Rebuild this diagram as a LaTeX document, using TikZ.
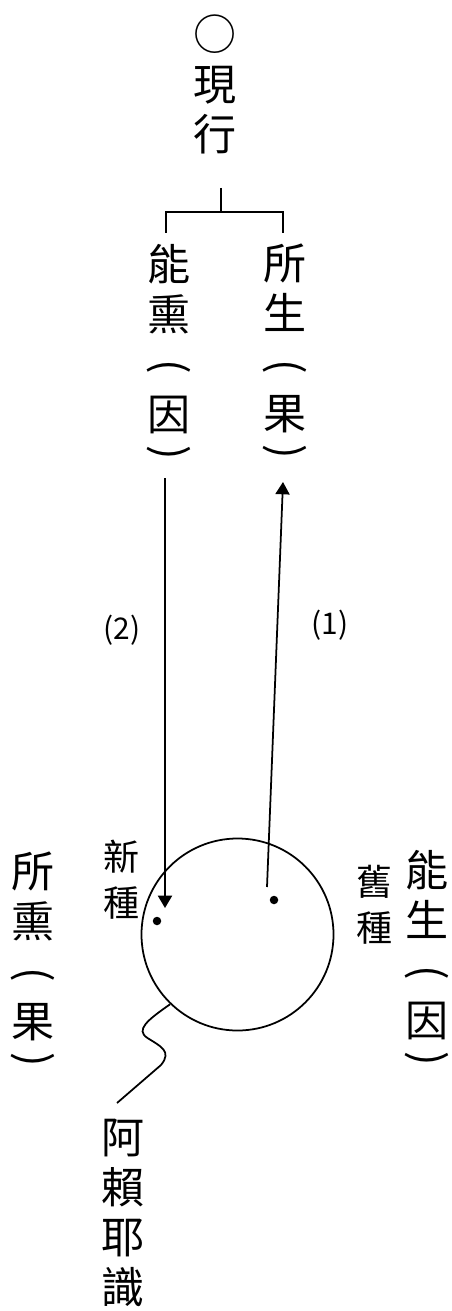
\documentclass[tikz,border=0pt]{standalone}
\usepackage{fontspec}
\usepackage{graphicx}
\newfontfamily\cjk{Noto Sans CJK TC}
\usetikzlibrary{arrows.meta,positioning}
% vertical brackets
\newcommand{\vopen}{\rotatebox[origin=c]{-90}{(}}
\newcommand{\vclose}{\raisebox{0.33em}{\rotatebox[origin=c]{-90}{)}}}

\begin{document}
\begin{tikzpicture}[every node/.style={inner sep=0pt, align=center},
  vbig/.style={font=\cjk\fontsize{24.5}{28.45}\selectfont},
  vsmall/.style={font=\cjk\fontsize{20.5}{26}\selectfont},
  num/.style={font=\cjk\fontsize{17}{20}\selectfont},
  seed/.style={circle, fill, minimum size=0.17cm},
  arr/.style={-{Triangle[length=7pt,width=8pt]}, line width=1pt}]
  \useasboundingbox (0,0) rectangle (9.02,-26.22);
  % current activity
  \node[vbig] (xianxing) at (4.30,-1.68) {○\\現\\行};
  \coordinate (stem) at (4.42,-3.76);
  \coordinate (fork) at (4.42,-4.24);
  \coordinate (lbr) at (3.32,-4.66);
  \coordinate (rbr) at (5.66,-4.66);
  \draw[line width=1pt] (stem) -- (fork);
  \draw[line width=1pt] (lbr) |- (fork) -| (rbr);
  \node[vbig] (nengxun) at (3.38,-7.24) {能\\熏\\\vopen\\因\\\vclose};
  \node[vbig] (suosheng) at (5.70,-7.24) {所\\生\\\vopen\\果\\\vclose};
  % storehouse consciousness
  \node[draw, circle, line width=1pt, minimum size=3.84cm] (alaya) at (4.75,-18.69) {};
  \node[seed] (xinzhong) at (3.14,-18.42) {};
  \node[seed] (jiuzhong) at (5.48,-18.00) {};
  \node[vsmall] (xin) at (2.44,-17.60) {新\\種};
  \node[vsmall] (jiu) at (7.50,-18.09) {舊\\種};
  \node[vbig] (suoxun) at (0.66,-19.40) {所\\熏\\\vopen\\果\\\vclose};
  \node[vbig] (nengsheng) at (8.54,-19.36) {能\\生\\\vopen\\因\\\vclose};
  \node[vbig] (alaye) at (2.46,-24.26) {阿\\賴\\耶\\識};
  % (1) and (2)
  \coordinate (down0) at (3.30,-9.56);
  \coordinate (down1) at (3.30,-18.16);
  \coordinate (up0) at (5.34,-17.74);
  \coordinate (up1) at (5.66,-9.64);
  \draw[arr] (down0) -- (down1);
  \draw[arr] (up0) -- (up1);
  \node[num] (two) at (2.44,-12.60) {(2)};
  \node[num] (one) at (6.60,-12.50) {(1)};
  % squiggle
  \draw[line width=1pt] (alaya.226) .. controls (2.95,-20.40) and (2.70,-20.60) .. (2.95,-20.76)
    .. controls (3.20,-20.92) and (3.45,-21.02) .. (3.22,-21.30) -- (2.34,-22.06);
\end{tikzpicture}
\end{document}
